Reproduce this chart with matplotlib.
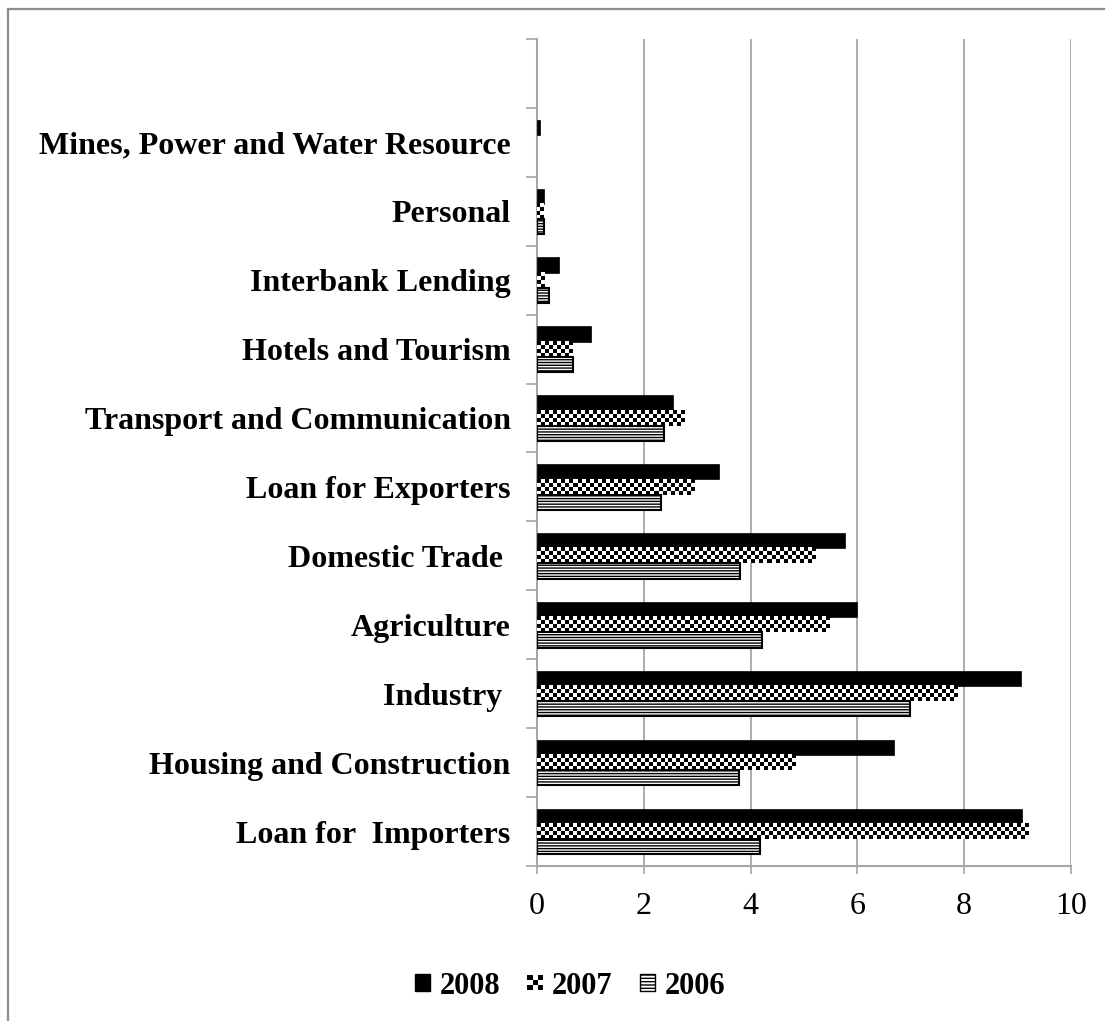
#!/usr/bin/env python3
"""
Sector-wise lending share, 2006-2008, horizontal grouped bars.
"""

import numpy as np
import matplotlib
matplotlib.use('Agg')
import matplotlib.pyplot as plt
from matplotlib.patches import Patch, Rectangle
from matplotlib.legend_handler import HandlerBase
from matplotlib.lines import Line2D

# ── Data ────────────────────────────────────────────────────────────
SECTORS = ['Loan for  Importers', 'Housing and Construction', 'Industry ',
           'Agriculture', 'Domestic Trade ', 'Loan for Exporters',
           'Transport and Communication', 'Hotels and Tourism',
           'Interbank Lending', 'Personal', 'Mines, Power and Water Resource', '']
V2008 = [9.09, 6.68, 9.07, 6.00, 5.76, 3.41, 2.54, 1.01, 0.41, 0.14, 0.05]
V2007 = [9.21, 4.85, 7.87, 5.47, 5.21, 2.95, 2.76, 0.66, 0.14, 0.12, 0.0]
V2006 = [4.17, 3.79, 6.99, 4.22, 3.81, 2.32, 2.38, 0.68, 0.22, 0.14, 0.0]
XTICKS = [0, 2, 4, 6, 8, 10]

W, H = 1105, 1021
GRID = '#a6a6a6'
SERIF = 'Liberation Serif'

plt.rcParams['font.family'] = SERIF
plt.rcParams['hatch.linewidth'] = 1.0


def checker(ax, x0, x1, y0, y1, dx=0.075, rows=4):
    cols = max(1, int(round((x1 - x0) / dx)))
    img = (np.indices((rows, cols)).sum(axis=0) % 2).astype(float)
    ax.imshow(img, cmap='gray', extent=(x0, x1, y0, y1), aspect='auto',
              interpolation='nearest', vmin=0, vmax=1, zorder=3)


class CheckerHandler(HandlerBase):
    def create_artists(self, legend, orig_handle, xdescent, ydescent,
                       width, height, fontsize, trans):
        n = 3
        s = min(width, height)
        ox = -xdescent + (width - s) / 2
        oy = -ydescent + (height - s) / 2
        arts = []
        for i in range(n):
            for j in range(n):
                if (i + j) % 2 == 0:
                    arts.append(Rectangle((ox + i * s / n, oy + j * s / n), s / n, s / n,
                                          facecolor='black', edgecolor='none',
                                          transform=trans))
        return arts


fig = plt.figure(figsize=(W / 100, H / 100), dpi=100)
ax = fig.add_axes([537 / W, 1 - 866 / H, (1071 - 537) / W, (866 - 39) / H])

n = len(V2008)
y = np.arange(n)
bh = 0.22

ax.barh(y + bh, V2008, height=bh, color='black', edgecolor='black', linewidth=0.5, zorder=3)
for yi, v in zip(y, V2007):
    if v > 0:
        checker(ax, 0, v, yi - bh / 2, yi + bh / 2)
ax.barh(y - bh, V2006, height=bh, facecolor='white', edgecolor='black',
        hatch='------', linewidth=[1.5 if v > 0 else 0 for v in V2006], zorder=3)

ax.set_xlim(0, 10)
ax.set_ylim(-0.5, len(SECTORS) - 0.5)
ax.set_xticks(XTICKS)
ax.set_xticklabels([str(t) for t in XTICKS], fontsize=23)
ax.tick_params(axis='x', direction='out', length=6, width=1.2, color=GRID, pad=13)

ax.set_yticks(np.arange(len(SECTORS) + 1) - 0.5)
ax.set_yticklabels([])
ax.set_yticks(np.arange(len(SECTORS)), minor=True)
ax.set_yticklabels(SECTORS, minor=True, fontsize=23, fontweight='bold')
ax.tick_params(axis='y', which='major', direction='out', length=8, width=1.2, color=GRID)
ax.tick_params(axis='y', which='minor', length=0, pad=19)

ax.grid(axis='x', color=GRID, linewidth=1.3, zorder=0)
ax.set_axisbelow(True)
for side in ('top', 'right'):
    ax.spines[side].set_visible(False)
for side in ('left', 'bottom'):
    ax.spines[side].set_color(GRID)
    ax.spines[side].set_linewidth(1.5)

handles = [Patch(facecolor='black', edgecolor='black'),
           Patch(facecolor='white'),
           Patch(facecolor='white', edgecolor='black', hatch='-----')]
fig.legend(handles, ['2008', '2007', '2006'], loc='center',
           bbox_to_anchor=(570 / W, 1 - 986 / H), ncol=3, frameon=False,
           prop={'family': SERIF, 'weight': 'bold', 'size': 22},
           handlelength=0.5, handleheight=0.5, handletextpad=0.3, columnspacing=0.9,
           handler_map={handles[1]: CheckerHandler()})

# outer frame (only top and left edges show in the crop)
fig.add_artist(Line2D([7.5 / W, 1], [1 - 9.5 / H, 1 - 9.5 / H], color='#8c8c8c', linewidth=1.6))
fig.add_artist(Line2D([7.5 / W, 7.5 / W], [0, 1 - 9.5 / H], color='#8c8c8c', linewidth=1.6))

fig.savefig('out.png', dpi=100)
